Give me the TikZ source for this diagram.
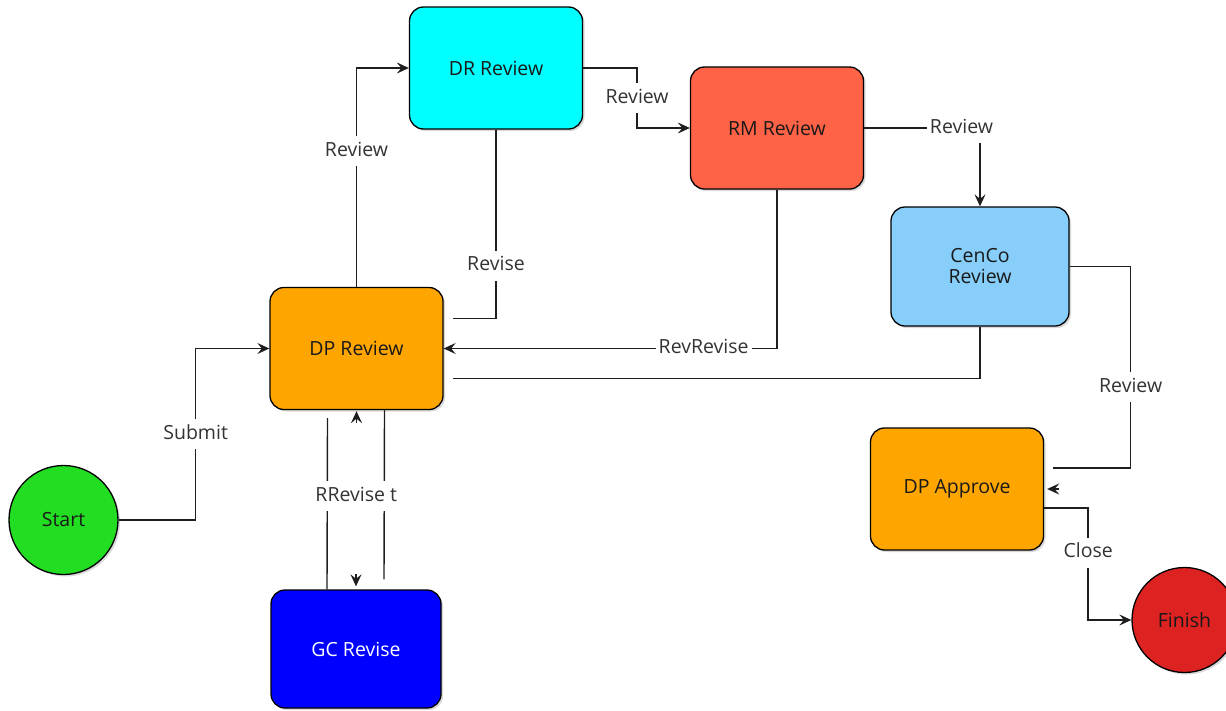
\documentclass[tikz,border=0pt]{standalone}
\usepackage{fontspec}
\setmainfont{Open Sans}
\usetikzlibrary{arrows.meta,shadows,calc}
\definecolor{drc}{HTML}{00FFFF}
\definecolor{rmc}{HTML}{FF6347}
\definecolor{ccc}{HTML}{87CEFA}
\definecolor{orc}{HTML}{FFA500}
\definecolor{gcc}{HTML}{0000FF}
\definecolor{stc}{HTML}{22DD22}
\definecolor{fic}{HTML}{DD2222}
\definecolor{edgec}{HTML}{1E1E1E}
\definecolor{lblc}{HTML}{333333}
\newcommand\diafont{\fontsize{19.5}{24}\selectfont}
\tikzset{
  shad/.style={drop shadow={shadow xshift=2pt,shadow yshift=-2pt,opacity=0.3}},
  box/.style={draw=black, line width=1.3pt, rounded corners=14pt, minimum width=173pt,
    minimum height=122pt, align=center, font=\diafont, text=black!90, shad},
  circ/.style={circle, draw=black, line width=1.3pt, font=\diafont, text=black!90, shad, inner sep=0pt},
  edge/.style={draw=edgec, line width=1.4pt},
  arr/.style={-{Stealth[length=12pt,width=11pt,inset=4.5pt]}},
  lbl/.style={fill=white, font=\diafont, text=lblc, inner xsep=3pt, inner ysep=6pt,
    text height=14pt, text depth=4pt}
}
\begin{document}
\begin{tikzpicture}[x=1pt,y=-1pt]
\useasboundingbox (0,0) rectangle (1226,710);
% nodes
\node[box,fill=drc] (dr) at (496,68) {DR Review};
\node[box,fill=rmc] (rm) at (777,128) {RM Review};
\node[box,fill=ccc,minimum width=178pt,minimum height=119pt] (cc) at (980,266.5) {CenCo\\[-3pt]Review};
\node[box,fill=orc] (dp) at (356.5,348.5) {DP Review};
\node[box,fill=orc] (dpa) at (957,489) {DP Approve};
\node[box,fill=gcc,text=white,minimum width=170pt,minimum height=118pt] (gc) at (356,649) {GC Revise};
\node[circ,fill=stc,minimum size=109pt] (start) at (63.5,520) {Start};
\node[circ,fill=fic,minimum size=105pt] (fin) at (1184.5,620) {Finish};
% free ends
\coordinate (dpA) at ($(dp.east)+(9,-30)$);
\coordinate (dpB) at ($(dp.east)+(9,30)$);
\coordinate (dpaA) at ($(dpa.east)+(9,-21)$);
\coordinate (gcA) at ($(gc.north)+(-29,0)$);
\coordinate (dpC) at ($(dp.south)+(-29,8)$);
\coordinate (dpD) at ($(dp.south)+(28,0)$);
\coordinate (gcB) at ($(gc.north)+(28,-10)$);
% edges
\draw[edge,arr] (start.east) -- ++(77,0) |- node[lbl,pos=0.25]{Submit} (dp.west);
\draw[edge,arr] (dp.north) |- node[lbl,pos=0.31]{Review} (dr.west);
\draw[edge] (dr.south) |- node[lbl,pos=0.36]{Revise} (dpA);
\draw[edge,arr] (dr.east) -- ++(54,0) |- node[lbl,pos=0.25]{Review} (rm.west);
\draw[edge,arr] (rm.south) |- node[lbl,pos=0.61]{RevRevise} (dp.east);
\draw[edge,arr] (rm.east) -| node[lbl,pos=0.42]{Review} (cc.north);
\draw[edge] (cc.south) |- (dpB);
\draw[edge] (cc.east) -- ++(61,0) |- node[lbl,pos=0.3]{Review} (dpaA);
\draw[edge,arr] ($(dpa.east)+(15,0)$) -- ($(dpa.east)+(3,0)$);
\draw[edge,arr] (dpa.east |- 0,508) -- ++(44,0) |- node[lbl,pos=0.2]{Close} (fin.west);
% GC revise / resubmit pair
\draw[edge] (gcA) -- (dpC);
\draw[edge] (dpD) -- (gcB);
\draw[edge,arr] ($(dp.south)+(0,13)$) -- ($(dp.south)+(0,1)$);
\draw[edge,arr] ($(gc.north)+(0,-15)$) -- ($(gc.north)+(0,-3)$);
\node[lbl] (gclbl) at ($(dp.south)!0.48!(gc.north)$) {RRevise t};
\end{tikzpicture}
\end{document}
